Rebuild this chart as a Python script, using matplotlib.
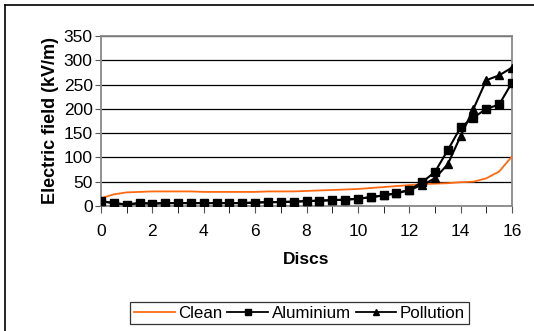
import numpy as np
import matplotlib
matplotlib.use("Agg")
import matplotlib.pyplot as plt
from matplotlib.lines import Line2D

plt.rcParams['font.family'] = ['Liberation Sans', 'DejaVu Sans']

# data: discs at half steps 0 .. 16
discs = [i * 0.5 for i in range(33)]
clean = [16, 24, 28, 29, 30, 30, 30, 30, 29, 29, 29, 29, 29, 30, 30, 30,
         31, 32, 33, 34, 35, 37, 39, 41, 43, 45, 46, 47, 49, 50, 57, 71, 102]
aluminium = [10, 6, 3, 6, 5, 6, 6, 6, 6, 6, 6, 6, 7, 8, 8, 9,
             10, 11, 12, 13, 15, 18, 22, 26, 33, 49, 70, 115, 162, 182, 200, 209, 254]
pollution = [10, 6, 3, 6, 5, 6, 6, 6, 6, 6, 6, 6, 7, 8, 8, 9,
             10, 11, 12, 13, 15, 18, 22, 26, 33, 43, 57, 86, 144, 200, 259, 269, 285]

xticks_major = list(range(0, 17, 2))
yticks_major = list(range(0, 351, 50))

fig = plt.figure(figsize=(5.34, 3.31), dpi=100)
ax = fig.add_axes([101 / 534, 1 - 206 / 331, 411 / 534, 170 / 331])

ax.plot(discs, clean, color='#ff6a10', linewidth=1.3, label='Clean', zorder=3)
ax.plot(discs, aluminium, color='black', linewidth=1.5, marker='s', markersize=6,
        label='Aluminium', zorder=4)
ax.plot(discs, pollution, color='black', linewidth=1.5, marker='^', markersize=6,
        label='Pollution', zorder=4)

ax.set_xlim(0, 16)
ax.set_ylim(0, 350)
ax.set_xticks(xticks_major)
ax.set_xticks(range(0, 17), minor=True)
ax.set_yticks(yticks_major)
ax.tick_params(axis='both', labelsize=12.5, direction='out', color='#555555')
ax.tick_params(axis='x', which='both', length=5, pad=8)
ax.tick_params(axis='y', length=4, pad=2)

ax.grid(axis='y', color='black', linewidth=0.9)
ax.set_axisbelow(True)
for s in ax.spines.values():
    s.set_color('#888888')
    s.set_linewidth(1.3)

ax.set_xlabel('Discs', fontsize=12.5, fontweight='bold', labelpad=9)
ax.set_ylabel('Electric field (kV/m)', fontsize=13, fontweight='bold', labelpad=3)

handles = [Line2D([], [], color='#ff6a10', linewidth=1.3),
           Line2D([], [], color='black', linewidth=1.3, marker='s', markersize=5),
           Line2D([], [], color='black', linewidth=1.3, marker='^', markersize=5)]
leg = fig.legend(handles, ['Clean', 'Aluminium', 'Pollution'], loc='center',
                 bbox_to_anchor=(299.5 / 534, 1 - 313 / 331), ncol=3, fontsize=12.2,
                 frameon=True, fancybox=False, handlelength=2.4, handletextpad=0.2,
                 columnspacing=0.3, borderpad=0.22, borderaxespad=0)
leg.get_frame().set_edgecolor('black')
leg.get_frame().set_linewidth(0.9)

# outer chart frame (left and top edges visible)
fig.add_artist(Line2D([5 / 534, 5 / 534], [0, 1 - 4.5 / 331], color='black',
                      linewidth=1.2, transform=fig.transFigure))
fig.add_artist(Line2D([5 / 534, 1], [1 - 4.5 / 331, 1 - 4.5 / 331], color='black',
                      linewidth=1.2, transform=fig.transFigure))

fig.savefig('out.png', dpi=100)
